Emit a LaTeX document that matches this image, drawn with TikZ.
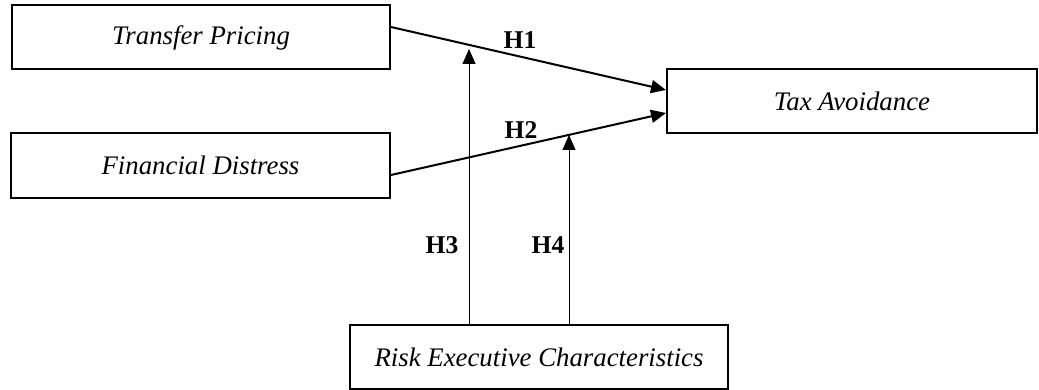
\documentclass[tikz,border=0pt]{standalone}
\usepackage{fontspec}
\setmainfont{Liberation Serif}
\usetikzlibrary{arrows.meta}
\begin{document}
\begin{tikzpicture}[x=0.5pt,y=-0.5pt,
  var/.style={draw, line width=1pt, minimum height=32pt, inner sep=0pt,
    font=\fontsize{13.4}{15}\selectfont\itshape},
  hyp/.style={font=\fontsize{12.8}{15}\selectfont\bfseries, inner sep=0pt},
  >={Triangle[length=7.5pt,width=6.5pt]}]
  \useasboundingbox (0,0) rectangle (1039,390);
  \node[var, minimum width=189pt] (tp) at (201,37.5) {Transfer Pricing};
  \node[var, minimum width=189.5pt] (fd) at (200.5,165.5) {Financial Distress};
  \node[var, minimum width=185pt] (ta) at (852,101) {Tax Avoidance};
  \node[var, minimum width=189pt] (re) at (539,357) {Risk Executive Characteristics};
  \coordinate (m3) at (469,49);
  \coordinate (m4) at (569,135);
  \draw[->, line width=1pt] ([yshift=5.25pt]tp.east) -- ([yshift=5.5pt]ta.west);
  \draw[->, line width=1pt] ([yshift=-4.75pt]fd.east) -- ([yshift=-6pt]ta.west);
  \draw[->, line width=0.5pt] (re.north -| m3) -- (m3);
  \draw[->, line width=0.5pt] (re.north -| m4) -- (m4);
  \node[hyp] (h1) at (520,40) {H1};
  \node[hyp] (h2) at (521,130) {H2};
  \node[hyp] (h3) at (442,245) {H3};
  \node[hyp] (h4) at (548,245) {H4};
\end{tikzpicture}
\end{document}
